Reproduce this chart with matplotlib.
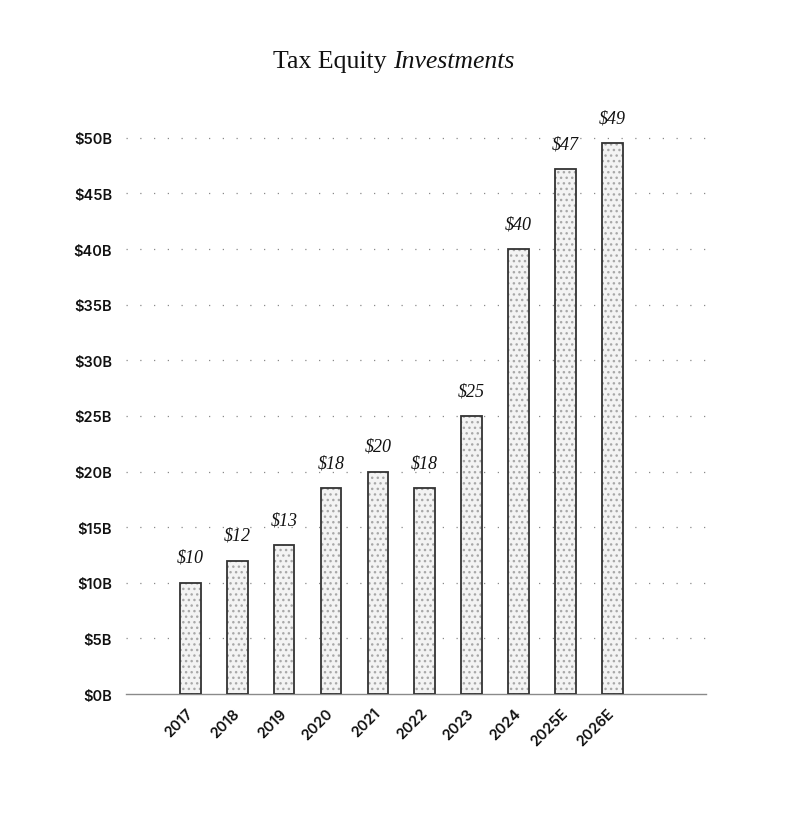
import matplotlib.pyplot as plt
import numpy as np

years = ['2017', '2018', '2019', '2020', '2021', '2022', '2023', '2024', '2025E', '2026E']
investments = [10, 12, 13.4, 18.5, 20, 18.5, 25, 40, 47.2, 49.5]  # $B
y_ticks = [0, 5, 10, 15, 20, 25, 30, 35, 40, 45, 50]

SANS = ['Inter', 'DejaVu Sans']
SERIF = ['Liberation Serif', 'DejaVu Serif']

fig = plt.figure(figsize=(7.88, 8.29), dpi=100)
ax = fig.add_axes([0.1599, 0.1616, 0.736, 0.6844])

x = np.arange(len(years))
# fill + dot hatch, then a separate outline pass so the dots stay light
ax.bar(x, investments, width=0.44, color='#f3f3f3', edgecolor='#a8a8a8',
       linewidth=0, hatch='...', zorder=2)
ax.bar(x, investments, width=0.44, fill=False, edgecolor='#333333',
       linewidth=1.3, zorder=3)

for xi, v in zip(x, investments):
    ax.annotate(f'${int(v)}', (xi, v), xytext=(0, 15), textcoords='offset points',
                ha='center', va='baseline', fontsize=13, style='italic',
                family=SERIF, color='#111111')

ax.set_xlim(-1.374, 11.0)
ax.set_ylim(0, 51)

ax.set_yticks(y_ticks)
ax.set_yticklabels([f'${t}B' for t in y_ticks], family=SANS, fontsize=10.5,
                   fontweight='semibold', color='#111111')
ax.set_xticks(x)
ax.set_xticklabels(years, rotation=45, ha='right', va='center',
                   rotation_mode='anchor', family=SANS, fontsize=10.5,
                   fontweight='semibold', color='#111111')
ax.tick_params(axis='both', length=0)
ax.tick_params(axis='y', pad=10)
ax.tick_params(axis='x', pad=12)

for t in y_ticks[1:]:
    ax.axhline(t, color='#8a8a8a', linewidth=0.9, linestyle=(0, (1, 10)), zorder=1)

for side in ['top', 'right', 'left']:
    ax.spines[side].set_visible(False)
ax.spines['bottom'].set_color('#8a8a8a')
ax.spines['bottom'].set_linewidth(1)

# two-part title: regular + italic, centred together
t1 = fig.text(0, 0.9185, 'Tax Equity ', family=SERIF, fontsize=18.5, color='#111111',
              ha='left', va='baseline')
t2 = fig.text(0, 0.9185, 'Investments', family=SERIF, fontsize=18.5, style='italic',
              color='#111111', ha='left', va='baseline')
fig.canvas.draw()
r = fig.canvas.get_renderer()
w1 = t1.get_window_extent(r).width / fig.bbox.width
w2 = t2.get_window_extent(r).width / fig.bbox.width
start = 0.5 - (w1 + w2) / 2
t1.set_x(start)
t2.set_x(start + w1)

fig.savefig('out.png', dpi=100)
